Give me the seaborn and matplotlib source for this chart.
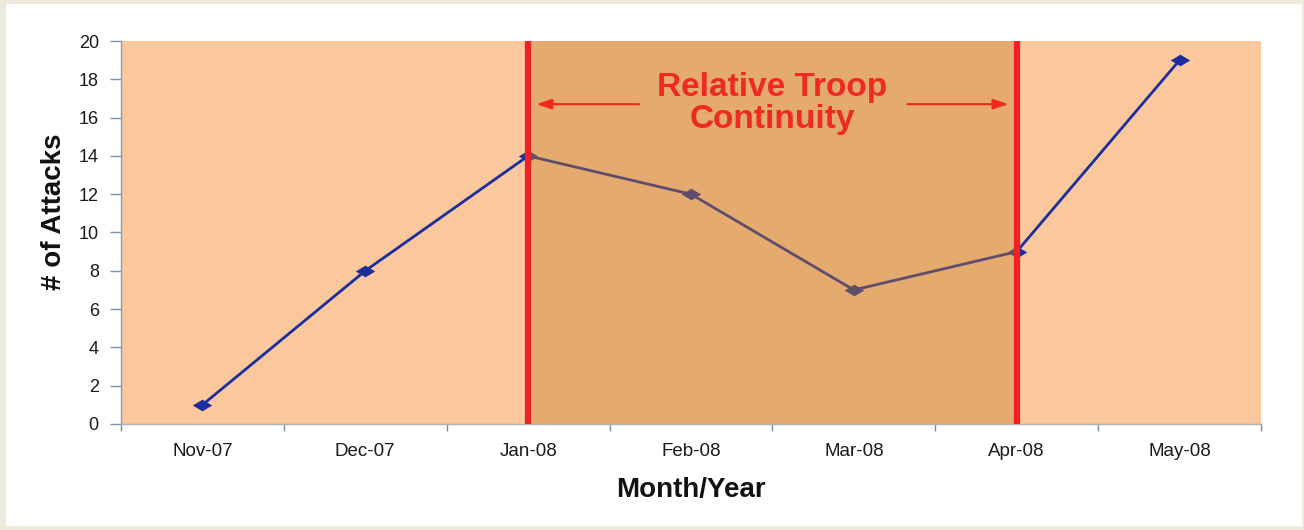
import matplotlib
matplotlib.use("Agg")
import matplotlib.pyplot as plt
from matplotlib.patches import Rectangle
from matplotlib.path import Path
from matplotlib.ticker import FixedLocator
import seaborn as sns
import pandas as pd

months = ["Nov-07", "Dec-07", "Jan-08", "Feb-08", "Mar-08", "Apr-08", "May-08"]
attacks = [1, 8, 14, 12, 7, 9, 19]
span_start = "Jan-08"
span_end = "Apr-08"
span_label = "Relative Troop\nContinuity"
y_ticks = list(range(0, 21, 2))

sns.set_style("white")
plt.rcParams["font.family"] = ["Liberation Sans", "DejaVu Sans"]

df = pd.DataFrame({"Month": months, "Attacks": attacks})

fig = plt.figure(figsize=(13.04, 5.30), dpi=100, facecolor="#EEEADB")
# white panel inset on the beige page
fig.patches.append(Rectangle((6 / 1304, 4 / 530), 1296 / 1304, 522 / 530,
                             transform=fig.transFigure, facecolor="white",
                             edgecolor="none", zorder=-1))
ax = fig.add_axes([121 / 1304, 1 - 424 / 530, 1140 / 1304, 383 / 530])
ax.set_zorder(1)
ax.set_facecolor("#FAC89C")

diamond = Path([(-1, 0), (0, 0.6), (1, 0), (0, -0.6), (-1, 0)],
               [Path.MOVETO, Path.LINETO, Path.LINETO, Path.LINETO, Path.CLOSEPOLY])
sns.lineplot(data=df, x="Month", y="Attacks", sort=False, ax=ax,
             color="#1C2E9C", linewidth=2.0, marker=diamond, markersize=14,
             markeredgewidth=0, zorder=3)

# darker band for the continuity period, laid over the line
x0 = months.index(span_start)
x1 = months.index(span_end)
ax.axvspan(x0, x1, facecolor=(198 / 255, 126 / 255, 40 / 255), alpha=0.4,
           edgecolor="none", zorder=4)
for xv in (x0, x1):
    ax.axvline(xv, color="#EE2222", linewidth=4.5, zorder=5)

xc = (x0 + x1) / 2
ax.text(xc, 16.75, span_label, ha="center", va="center", color="#EE2A22",
        fontsize=24, fontweight="bold", linespacing=1.06, zorder=6)
arrow_kw = dict(arrowstyle="-|>,head_length=0.9,head_width=0.3",
                color="#EE2A22", linewidth=1.6, shrinkA=0, shrinkB=0)
ax.annotate("", xy=(x0 + 0.05, 16.7), xytext=(x0 + 0.68, 16.7),
            arrowprops=arrow_kw, zorder=6)
ax.annotate("", xy=(x1 - 0.05, 16.7), xytext=(x1 - 0.67, 16.7),
            arrowprops=arrow_kw, zorder=6)

ax.set_xlim(-0.5, len(months) - 0.5)
ax.set_ylim(0, 20)
ax.set_yticks(y_ticks)
ax.set_xticks(range(len(months)))
ax.set_xticklabels(months)
ax.xaxis.set_minor_locator(FixedLocator([i - 0.5 for i in range(len(months) + 1)]))

ax.tick_params(axis="x", which="major", length=0, pad=14, labelsize=13.5,
               labelcolor="#1a1a1a")
ax.tick_params(axis="x", which="minor", length=5, width=1, color="#7D8A99",
               bottom=True)
ax.tick_params(axis="y", length=8, width=1, color="#7D93AD", pad=8,
               labelsize=13, labelcolor="#1a1a1a", left=True)

for side in ("top", "right"):
    ax.spines[side].set_visible(False)
ax.spines["left"].set_color("#8C9DB0")
ax.spines["bottom"].set_color("#A8B0BA")
ax.spines["left"].set_linewidth(1.0)
ax.spines["bottom"].set_linewidth(1.0)

ax.set_xlabel("Month/Year", fontsize=20, fontweight="bold", labelpad=12,
              color="#111111")
ax.set_ylabel("# of Attacks", fontsize=20, fontweight="bold", color="#111111")
ax.yaxis.set_label_coords(-0.047, 0.553)

fig.savefig("out.png", dpi=100, facecolor=fig.get_facecolor())
